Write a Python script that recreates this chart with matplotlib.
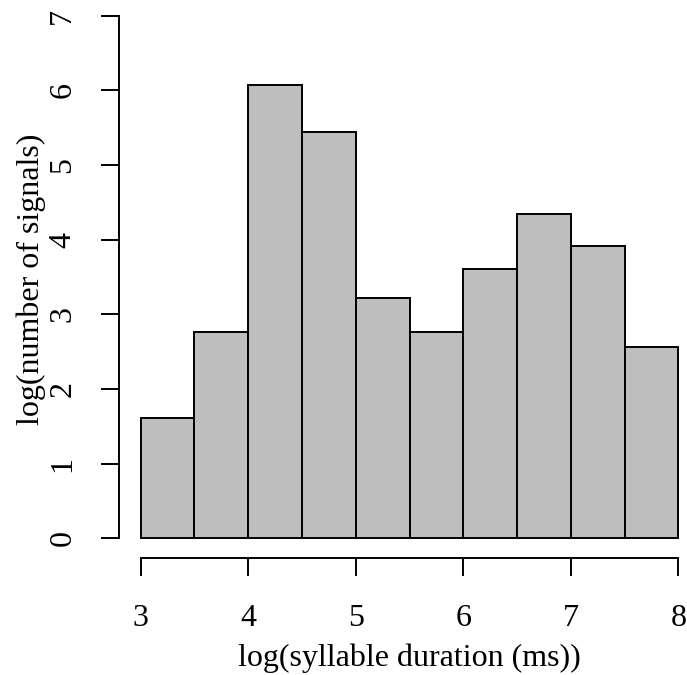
import numpy as np
import matplotlib.pyplot as plt

# bins of log(syllable duration), width 0.5
bin_edges = [3.0, 3.5, 4.0, 4.5, 5.0, 5.5, 6.0, 6.5, 7.0, 7.5, 8.0]
log_counts = [1.61, 2.77, 6.07, 5.44, 3.22, 2.77, 3.61, 4.34, 3.91, 2.56]

plt.rcParams['font.family'] = ['Liberation Serif', 'DejaVu Serif']

W, H = 687, 675
fig = plt.figure(figsize=(W / 100, H / 100), dpi=100)
# axes box in pixels: left 119, right 700, bottom 558, top 0
ax = fig.add_axes([119 / W, (H - 558) / H, (700 - 119) / W, 558 / H])

edges = np.array(bin_edges)
ax.bar(edges[:-1], log_counts, width=np.diff(edges), align='edge',
       color='#bebebe', edgecolor='black', linewidth=1.4)

ax.set_xlim(2.8, 8.2)
ax.set_ylim(-0.262, 7.21)

for s in ['top', 'right']:
    ax.spines[s].set_visible(False)
for s in ['left', 'bottom']:
    ax.spines[s].set_linewidth(1.4)
ax.spines['bottom'].set_bounds(3, 8)
ax.spines['left'].set_bounds(0, 7)

ax.set_xticks(range(3, 9))
ax.set_yticks(range(0, 8))
ax.tick_params(axis='both', length=13, width=1.4, labelsize=23, direction='out')
ax.tick_params(axis='x', pad=20)
ax.tick_params(axis='y', pad=17)
for lab in ax.get_yticklabels():
    lab.set_rotation(90)
    lab.set_va('center')

ax.set_xlabel('log(syllable duration (ms))', fontsize=23, labelpad=8)
ax.set_ylabel('log(number of signals)', fontsize=23, labelpad=2)

fig.savefig('out.png', dpi=100)
